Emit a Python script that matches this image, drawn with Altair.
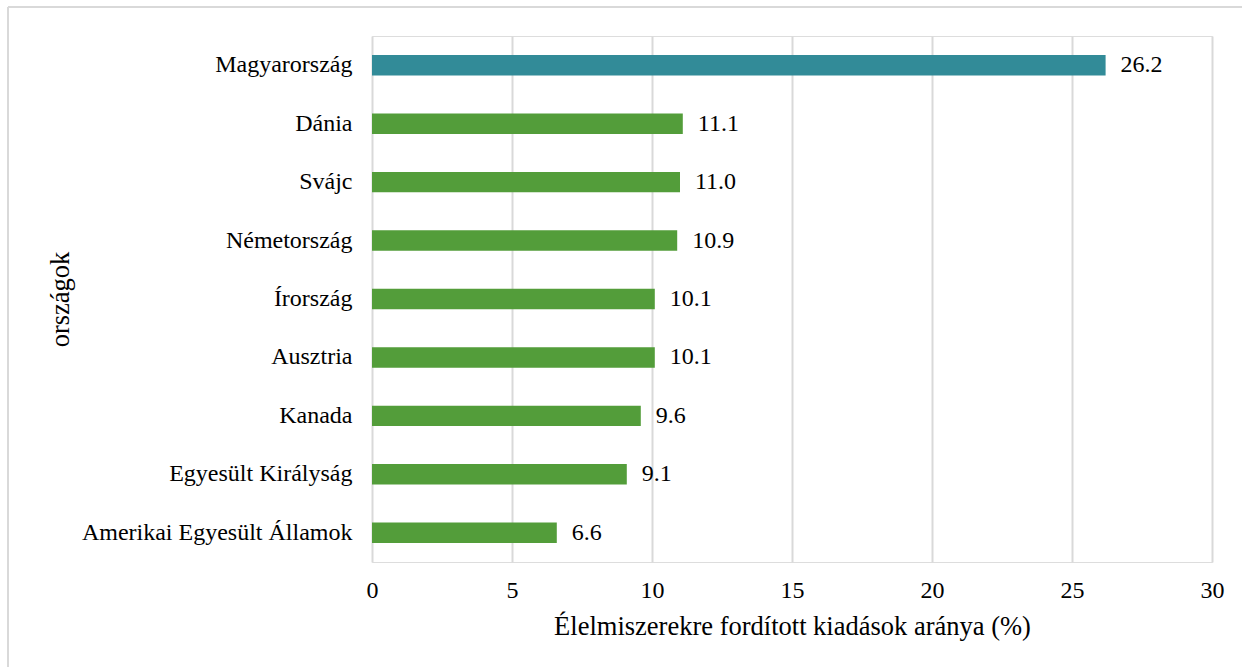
import altair as alt
import pandas as pd

countries = ["Magyarország", "Dánia", "Svájc", "Németország", "Írország",
             "Ausztria", "Kanada", "Egyesült Királyság", "Amerikai Egyesült Államok"]
values = [26.2, 11.1, 11.0, 10.9, 10.1, 10.1, 9.6, 9.1, 6.6]
groups = ["HU", "other", "other", "other", "other", "other", "other", "other", "other"]
x_ticks = [0, 5, 10, 15, 20, 25, 30]

df = pd.DataFrame({"country": countries, "value": values, "group": groups})
df["label"] = df["value"].map(lambda v: f"{v:.1f}")

FONT = "Liberation Serif"

y_enc = alt.Y("country:N", sort=None,
              scale=alt.Scale(paddingInner=0.65, paddingOuter=0.325),
              axis=alt.Axis(title="országok", domain=False, ticks=False,
                            labelFontSize=24, labelPadding=20, labelColor="#000",
                            labelFont=FONT, titleFont=FONT, titleFontSize=26.5,
                            titleFontWeight="normal", titleColor="#000",
                            titleX=-312, titleY=263, titleAngle=-90,
                            titleAlign="center", titleBaseline="middle",
                            labelLimit=400))
x_enc = alt.X("value:Q",
              scale=alt.Scale(domain=[0, 30], nice=False),
              axis=alt.Axis(title="Élelmiszerekre fordított kiadások aránya (%)",
                            values=x_ticks, domain=False, ticks=False,
                            grid=True, gridColor="#d9d9d9", gridWidth=2,
                            labelFlush=False,
                            labelFontSize=24, labelPadding=16, labelColor="#000",
                            labelFont=FONT, titleFont=FONT, titleFontSize=26.5,
                            titleFontWeight="normal", titleColor="#000",
                            titlePadding=11))

bars = alt.Chart(df).mark_bar().encode(
    y=y_enc, x=x_enc,
    color=alt.Color("group:N", scale=alt.Scale(domain=["HU", "other"],
                                               range=["#328b98", "#539d3a"]),
                    legend=None),
)

labels = alt.Chart(df).mark_text(align="left", baseline="middle", dx=15,
                                 fontSize=24, font=FONT, color="#000").encode(
    y=alt.Y("country:N", sort=None), x="value:Q", text="label:N")

border_top = alt.Chart(pd.DataFrame({"a": [0]})).mark_rule(
    color="#d9d9d9", strokeWidth=2).encode(
    x=alt.value(-364), x2=alt.value(900), y=alt.value(-29))
border_left = alt.Chart(pd.DataFrame({"a": [0]})).mark_rule(
    color="#d9d9d9", strokeWidth=2).encode(
    x=alt.value(-364), y=alt.value(-29), y2=alt.value(700))

chart = alt.layer(bars, labels, border_top, border_left).properties(
    width=840, height=526,
    autosize=alt.AutoSizeParams(type="none"),
    padding={"left": 372, "top": 36, "right": 30, "bottom": 105},
).configure_view(stroke=None).configure(background="white")

chart.save("out.html", embed_options={"renderer": "svg", "actions": False})
